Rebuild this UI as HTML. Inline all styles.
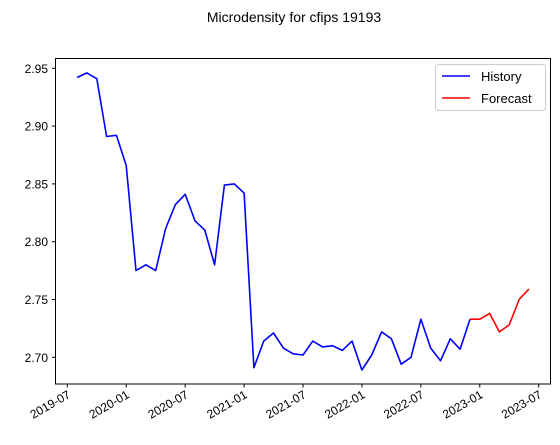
<!DOCTYPE html>
<html><head><meta charset="utf-8"><style>
body{margin:0;background:#fff;}
svg{display:block;font-family:"Liberation Sans","DejaVu Sans",sans-serif;}
</style></head><body>
<svg id="chart" width="560" height="445">
<text x="294" y="22" font-size="14" text-anchor="middle">Microdensity for cfips 19193</text>
<g id="plot"></g>
<rect x="55.5" y="58.5" width="495" height="325.5" fill="none" stroke="#000" stroke-width="1"/>
<g>
<rect x="435.5" y="64.5" width="110" height="46" rx="3" fill="#fff" stroke="#ccc"/>
<line x1="442" y1="76" x2="470" y2="76" stroke="#0000ff" stroke-width="1.6"/>
<text x="481" y="81" font-size="13">History</text>
<line x1="442" y1="98" x2="470" y2="98" stroke="#ff0000" stroke-width="1.6"/>
<text x="481" y="103" font-size="13">Forecast</text>
</g>
</svg>
<script>
const histStart = 1; // months after 2019-07
const historyValues = [2.942,2.946,2.941,2.891,2.892,2.866,2.775,2.780,2.775,2.811,2.832,2.841,2.818,2.810,2.780,2.849,2.850,2.842,2.691,2.714,2.721,2.708,2.703,2.702,2.714,2.709,2.710,2.706,2.714,2.689,2.702,2.722,2.716,2.694,2.700,2.733,2.708,2.697,2.716,2.707,2.733];
const fcStart = 41;
const forecastValues = [2.733,2.733,2.738,2.722,2.728,2.750,2.759];
const yTicks = [2.70,2.75,2.80,2.85,2.90,2.95];
const xTickMonths = [0,6,12,18,24,30,36,42,48];
const xTickLabels = ["2019-07","2020-01","2020-07","2021-01","2021-07","2022-01","2022-07","2023-01","2023-07"];

function xScale(m){return 67.3 + m*(538.7-67.3)/48;}
function yScale(v){return 357.3 - (v-2.70)*(357.3-68.3)/0.25;}
const NS="http://www.w3.org/2000/svg";
const svg=document.getElementById('chart');
const plot=document.getElementById('plot');
function mk(tag,attrs,parent){const e=document.createElementNS(NS,tag);for(const k in attrs)e.setAttribute(k,attrs[k]);(parent||svg).appendChild(e);return e;}
yTicks.forEach(v=>{
  const y=yScale(v);
  const t=mk('line',{x1:52,x2:55.5,y1:y,y2:y,stroke:'#000'});
  
  
  const l=mk('text',{x:48,y:y+4.5,'font-size':12,'text-anchor':'end'});
  l.textContent=v.toFixed(2);
  
  
});
xTickMonths.forEach((m,i)=>{
  const x=xScale(m);
  const t=mk('line',{x1:x,x2:x,y1:384,y2:387.5,stroke:'#000'});
  
  
  const l=mk('text',{x:x+4,y:397,'font-size':12,'text-anchor':'end',transform:`rotate(-30 ${x+4} 397)`});
  l.textContent=xTickLabels[i];
  
  
});
function series(vals,start,color,name){
  const pts=vals.map((v,i)=>xScale(start+i).toFixed(1)+','+yScale(v).toFixed(1)).join(' ');
  const p=mk('polyline',{points:pts,fill:'none',stroke:color,'stroke-width':1.6,'stroke-linejoin':'round'},plot);
  
  
}
series(historyValues,histStart,'#0000ff','history-line');
series(forecastValues,fcStart,'#ff0000','forecast-line');
</script>
</body></html>
